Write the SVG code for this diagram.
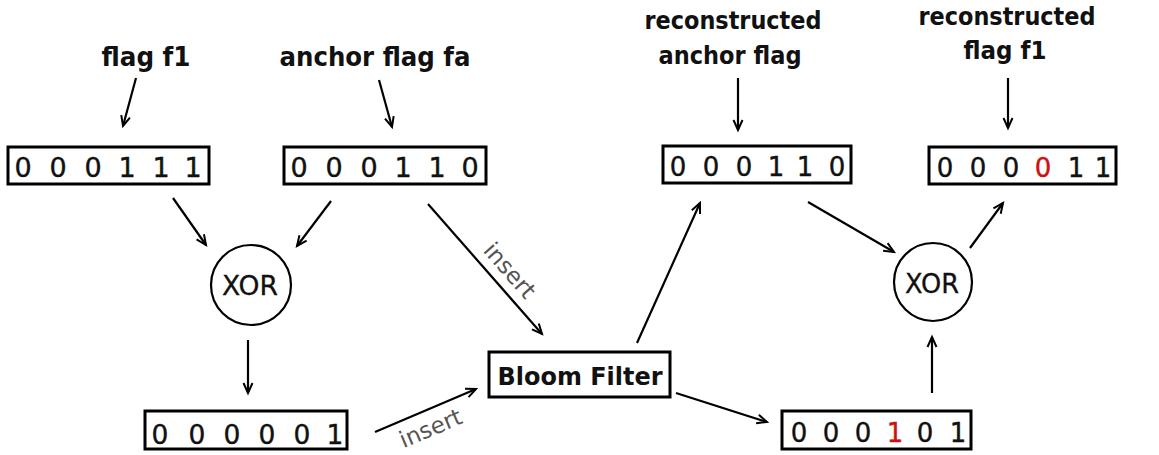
<svg xmlns="http://www.w3.org/2000/svg" width="1159" height="455" viewBox="0 0 1159 455">
  <style>
    .label { font-family: "DejaVu Sans", sans-serif; font-weight: bold; fill: #111; text-anchor: middle; }
    .bits { font-family: "DejaVu Sans", sans-serif; fill: #111; text-anchor: middle; stroke: #111; stroke-width: 0.4; }
    .box { fill: #fff; stroke: #000; stroke-width: 3; }
    .gate { fill: #fff; stroke: #000; stroke-width: 2.2; }
    .gate-text { font-family: "DejaVu Sans", sans-serif; fill: #111; text-anchor: middle; stroke: #111; stroke-width: 0.3; }
    .edge { fill: none; stroke: #000; stroke-width: 2.2; marker-end: url(#head); }
    .edge-label { font-family: "DejaVu Sans", sans-serif; fill: #555; text-anchor: middle; font-size: 23px; }
    .red { fill: #cc1111; stroke: #cc1111; }
  </style>
  <defs>
    <marker id="head" markerUnits="userSpaceOnUse" markerWidth="14" markerHeight="12" refX="11" refY="6" orient="auto">
      <path d="M1,1.5 L11,6 L1,10.5" fill="none" stroke="#000" stroke-width="2"/>
    </marker>
  </defs>
  <rect width="1159" height="455" fill="#fff"/>

  <!-- top labels -->
  <g id="label-f1">
    <text class="label" x="146" y="66" font-size="26" textLength="89" lengthAdjust="spacingAndGlyphs">flag f1</text>
  </g>
  <g id="label-fa">
    <text class="label" x="375" y="66" font-size="26" textLength="191" lengthAdjust="spacingAndGlyphs">anchor flag fa</text>
  </g>
  <g id="label-rec-anchor">
    <text class="label" x="733" y="29" font-size="25.5" textLength="177" lengthAdjust="spacingAndGlyphs">reconstructed</text>
    <text class="label" x="730" y="64" font-size="25.5" textLength="143" lengthAdjust="spacingAndGlyphs">anchor flag</text>
  </g>
  <g id="label-rec-f1">
    <text class="label" x="1007" y="25" font-size="25.5" textLength="177" lengthAdjust="spacingAndGlyphs">reconstructed</text>
    <text class="label" x="1005" y="59" font-size="25.5" textLength="83" lengthAdjust="spacingAndGlyphs">flag f1</text>
  </g>

  <!-- bit vectors -->
  <g id="bits-f1">
    <rect class="box" x="8" y="147" width="201" height="37"/>
    <text class="bits" font-size="27" y="177" x="23 58 93 127 161 193">000111</text>
  </g>
  <g id="bits-fa">
    <rect class="box" x="284" y="147" width="202" height="37"/>
    <text class="bits" font-size="27" y="177" x="299 334 369 403 437 470">000110</text>
  </g>
  <g id="bits-rec-anchor">
    <rect class="box" x="663" y="146" width="188" height="37"/>
    <text class="bits" font-size="26" y="176" x="678 711 744 776 805 837">000110</text>
  </g>
  <g id="bits-rec-f1">
    <rect class="box" x="929" y="147" width="187" height="37"/>
    <text class="bits" font-size="26" y="177" x="945 978 1011 1043 1076 1103">000<tspan class="red">0</tspan>11</text>
  </g>
  <g id="bits-xor">
    <rect class="box" x="145" y="411" width="202" height="38"/>
    <text class="bits" font-size="26.5" y="444" x="160 197 232 267 302 335">000001</text>
  </g>
  <g id="bits-query">
    <rect class="box" x="782" y="411" width="189" height="38"/>
    <text class="bits" font-size="26" y="442" x="799 831 863 895 925 958">000<tspan class="red">1</tspan>01</text>
  </g>

  <!-- XOR gates -->
  <g id="xor-left">
    <circle class="gate" cx="251" cy="285" r="40"/>
    <text class="gate-text" x="250" y="295" font-size="27" textLength="56" lengthAdjust="spacingAndGlyphs">XOR</text>
  </g>
  <g id="xor-right">
    <circle class="gate" cx="933" cy="282" r="39"/>
    <text class="gate-text" x="932" y="293" font-size="26" textLength="54" lengthAdjust="spacingAndGlyphs">XOR</text>
  </g>

  <!-- Bloom filter -->
  <g id="bloom">
    <rect class="box" x="489" y="352" width="181" height="45"/>
    <text class="label" x="580" y="385" font-size="25" textLength="165" lengthAdjust="spacingAndGlyphs">Bloom Filter</text>
  </g>

  <!-- connectors -->
  <g id="connectors">
    <line class="edge" x1="136" y1="78" x2="123" y2="126"/>
    <line class="edge" x1="379" y1="80" x2="392" y2="127"/>
    <line class="edge" x1="738" y1="78" x2="738" y2="130"/>
    <line class="edge" x1="1008" y1="78" x2="1008" y2="128"/>
    <line class="edge" x1="173" y1="198" x2="206" y2="245"/>
    <line class="edge" x1="331" y1="201" x2="297" y2="246"/>
    <line class="edge" x1="428" y1="204" x2="542" y2="334"/>
    <line class="edge" x1="248" y1="340" x2="248" y2="393"/>
    <line class="edge" x1="375" y1="432" x2="476" y2="389"/>
    <line class="edge" x1="637" y1="343" x2="700" y2="203"/>
    <line class="edge" x1="676" y1="393" x2="767" y2="422"/>
    <line class="edge" x1="808" y1="202" x2="894" y2="252"/>
    <line class="edge" x1="970" y1="248" x2="1003" y2="203"/>
    <line class="edge" x1="932" y1="393" x2="932" y2="337"/>
    <text class="edge-label" transform="translate(509 271) rotate(48.8)" y="7">insert</text>
    <text class="edge-label" transform="translate(431 429) rotate(-23)" y="7">insert</text>
  </g>
</svg>
